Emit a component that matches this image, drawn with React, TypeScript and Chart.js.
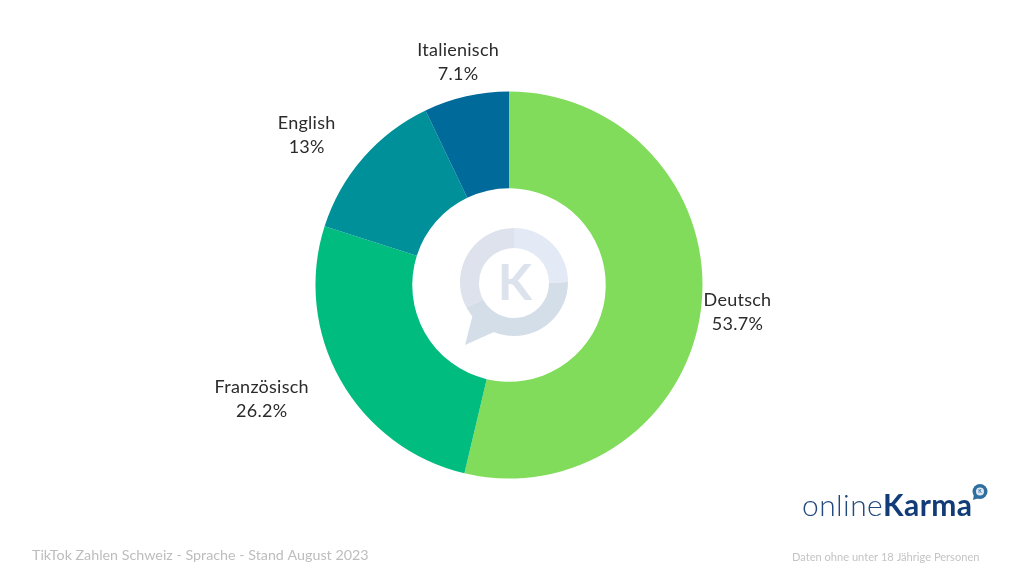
import React, { useEffect, useRef } from "react";
import { Chart, registerables } from "chart.js";

Chart.register(...registerables);

const languages = ["Deutsch", "Französisch", "English", "Italienisch"];
const shares = [53.7, 26.2, 13.0, 7.1];
const shareLabels = ["53.7%", "26.2%", "13%", "7.1%"];
const colors = ["#80DC5A", "#00BC7E", "#009099", "#006A9B"];
const footerLeft = "TikTok Zahlen Schweiz - Sprache - Stand August 2023";
const footerRight = "Daten ohne unter 18 Jährige Personen";

const LABEL_FONT = '18px Lato, "Open Sans", sans-serif';

const arcLabels = {
  id: "arcLabels",
  afterDatasetsDraw(chart: any) {
    const { ctx } = chart;
    const arcs = chart.getDatasetMeta(0).data;
    ctx.save();
    ctx.font = LABEL_FONT;
    ctx.letterSpacing = "0.25px";
    ctx.fillStyle = "#2b2b2b";
    ctx.textAlign = "center";
    ctx.textBaseline = "middle";
    arcs.forEach((arc: any, i: number) => {
      const mid = (arc.startAngle + arc.endAngle) / 2;
      const r = arc.outerRadius + 36.5;
      const name = languages[i];
      // labels in the lower/upper left quadrant hang outward from their anchor
      const quadrantLeft = Math.cos(mid) < -0.5;
      const half = quadrantLeft ? ctx.measureText(name).width / 2 : 0;
      const x = arc.x + Math.cos(mid) * r - half;
      const y = arc.y + Math.sin(mid) * r;
      ctx.fillText(name, x, y - 11);
      ctx.fillText(shareLabels[i], x, y + 13);
    });
    ctx.restore();
  },
};

const decorations = {
  id: "decorations",
  afterDraw(chart: any) {
    const { ctx } = chart;
    ctx.save();

    // centre watermark
    const cx = 514;
    const cy = 282;
    const ro = 54;
    const ri = 35;
    const seg = (a0: number, a1: number, c: string) => {
      ctx.beginPath();
      ctx.arc(cx, cy, ro, a0, a1);
      ctx.arc(cx, cy + 1, ri, a1, a0, true);
      ctx.closePath();
      ctx.fillStyle = c;
      ctx.fill();
    };
    ctx.beginPath();
    ctx.moveTo(472.5, 316);
    ctx.lineTo(465, 345);
    ctx.lineTo(494, 332);
    ctx.closePath();
    ctx.fillStyle = "#D3DEE8";
    ctx.fill();
    const top = -Math.PI / 2;
    seg(top, 0, "#E3EAF5");
    seg(0, (Math.PI * 152) / 180, "#D3DEE8");
    seg((Math.PI * 152) / 180, top, "#DDE2EC");
    ctx.fillStyle = "#DCE3EC";
    ctx.font = 'bold 50px Lato, sans-serif';
    ctx.textAlign = "center";
    ctx.textBaseline = "middle";
    ctx.fillText("K", 515, 284);

    // footers
    ctx.textBaseline = "alphabetic";
    ctx.textAlign = "left";
    ctx.fillStyle = "#bdbdbd";
    ctx.font = '14.3px Lato, sans-serif';
    ctx.fillText(footerLeft, 32, 560);
    ctx.fillStyle = "#c4c4c4";
    ctx.font = '11.1px Lato, sans-serif';
    ctx.fillText(footerRight, 792, 561);

    // brand
    ctx.letterSpacing = "0.4px";
    ctx.font = '300 30px Lato, sans-serif';
    ctx.fillStyle = "#234a7d";
    ctx.fillText("online", 802, 516);
    const w = ctx.measureText("online").width;
    ctx.font = 'bold 30px Lato, sans-serif';
    ctx.fillStyle = "#123c78";
    ctx.fillText("Karma", 802 + w, 516);
    ctx.letterSpacing = "0px";
    ctx.beginPath();
    ctx.moveTo(974, 494);
    ctx.lineTo(973, 500);
    ctx.lineTo(979, 498);
    ctx.closePath();
    ctx.fillStyle = "#2f6f9f";
    ctx.fill();
    ctx.beginPath();
    ctx.arc(980, 491.5, 7.5, 0, Math.PI * 2);
    ctx.fill();
    ctx.beginPath();
    ctx.arc(980, 491.5, 4, 0, Math.PI * 2);
    ctx.fillStyle = "#dfe8f2";
    ctx.fill();
    ctx.fillStyle = "#2f6f9f";
    ctx.font = 'bold 5px Lato, sans-serif';
    ctx.textAlign = "center";
    ctx.textBaseline = "middle";
    ctx.fillText("K", 980, 491.5);
    ctx.restore();
  },
};

export default function App() {
  const ref = useRef<HTMLCanvasElement>(null);
  useEffect(() => {
    const chart = new Chart(ref.current!, {
      type: "doughnut",
      data: {
        labels: languages,
        datasets: [{ data: shares, backgroundColor: colors, borderWidth: 0 }],
      },
      options: {
        animation: false,
        responsive: false,
        cutout: "50%",
        layout: { padding: { left: 315.5, right: 321.5, top: 91.5, bottom: 97.5 } },
        plugins: { legend: { display: false }, tooltip: { enabled: false } },
      },
      plugins: [arcLabels, decorations],
    });
    return () => chart.destroy();
  }, []);
  return (
    <canvas
      ref={ref}
      width={1024}
      height={576}
      style={{ position: "absolute", left: 0, top: 0, width: 1024, height: 576, background: "#fff" }}
    />
  );
}
